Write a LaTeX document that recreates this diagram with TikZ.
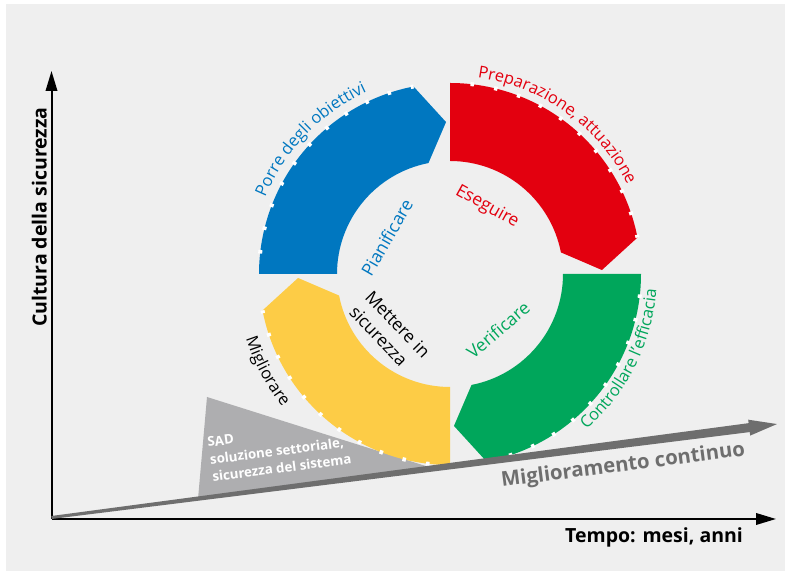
\documentclass[tikz,border=0pt]{standalone}
\usepackage{fontspec}
\setmainfont{Open Sans}
\usetikzlibrary{arrows.meta,decorations.text}
\definecolor{bgc}{HTML}{EFEFEF}
\definecolor{cblue}{HTML}{0077C0}
\definecolor{cred}{HTML}{E3000F}
\definecolor{cgreen}{HTML}{00A65B}
\definecolor{cyellow}{HTML}{FDCC46}
\definecolor{cband}{HTML}{6E6E6E}
\definecolor{ctri}{HTML}{AEAEB0}
\newcommand{\outerfont}{\fontsize{16.5}{18}\selectfont}
\newcommand{\innerfont}{\fontsize{17.5}{22}\selectfont}
\newcommand{\axisfont}{\fontsize{19.5}{22}\selectfont\bfseries}
\newcommand{\sadfont}{\fontsize{13.3}{16}\selectfont\bfseries}
\newcommand{\ringseg}[2]{%
  \fill[#1] (#2:113pt) -- (#2:191pt)
    arc[start angle=#2, end angle={#2-79}, radius=191pt]
    -- ({#2-88.5}:152pt) -- ({#2-79}:113pt)
    arc[start angle={#2-79}, end angle=#2, radius=113pt] -- cycle;
  \draw[notch] (#2:191pt) arc[start angle=#2, end angle={#2-79}, radius=191pt];
}
\tikzset{
  notch/.style={draw=white, line width=4pt, dash pattern=on 3.5pt off 20.5pt, dash phase=3.5pt},
  axisline/.style={draw=black, line width=2pt, -{Triangle[length=20pt,width=11.5pt]}},
  innerlbl/.style={font=\innerfont, inner sep=0pt},
  sadtxt/.style={font=\sadfont, text=white, inner sep=0pt, anchor=base west, rotate=7.34},
  outerlbl/.style={decorate, decoration={text along path, text align=center, text color=#1}},
}
\begin{document}
\begin{tikzpicture}[x=1pt,y=1pt]
\useasboundingbox (0,0) rectangle (785,572);
\fill[white] (0,0) rectangle (785,572);
\fill[bgc] (6,1) rectangle (785,568);

% axes
\coordinate (O) at (51.5,53);
\coordinate (ytip) at (51.5,501);
\coordinate (xtip) at (776,53);
\draw[axisline] (O) -- (ytip);
\draw[axisline] (O) -- (xtip);
\node[font=\axisfont, anchor=base west, rotate=90, inner sep=0pt] (ylab) at (46.5,245) {Cultura della sicurezza};
\node[font=\axisfont, anchor=base west, inner sep=0pt] (xlab) at (565,29) {Tempo: mesi, anni};

% SAD triangle
\coordinate (t1) at (207,175);
\coordinate (t2) at (198,73);
\coordinate (t3) at (432,104);
\fill[ctri] (t1) -- (t2) -- (t3) -- cycle;
\node[sadtxt] (sad1) at (208,125) {SAD};
\node[sadtxt] (sad2) at (210.5,107.5) {soluzione settoriale,};
\node[sadtxt] (sad3) at (212.8,90.5) {sicurezza del sistema};

% ring
\begin{scope}[shift={(450,298)}]
  \ringseg{cblue}{180}
  \ringseg{cred}{90}
  \ringseg{cgreen}{0}
  \ringseg{cyellow}{270}
  \path[outerlbl=cblue, decoration={text={|\outerfont|Porre degli obiettivi}}]
    (180:200pt) arc[start angle=180, end angle=92, radius=200pt];
  \path[outerlbl=cred, decoration={text={|\outerfont|Preparazione, attuazione}}]
    (100:198.5pt) arc[start angle=100, end angle=8.6, radius=198.5pt];
  \path[outerlbl=cgreen, decoration={text={|\outerfont|Controllare l’efficacia}}]
    (-70:207pt) arc[start angle=-70, end angle=16.8, radius=207pt];
  \path[outerlbl=black, decoration={text={|\outerfont|Migliorare}}]
    (180:214pt) arc[start angle=180, end angle=236, radius=214pt];
  \node[innerlbl, text=cblue, rotate=60] (pian) at (150:73pt) {Pianificare};
  \node[innerlbl, text=cred, rotate=-29] (eseg) at (61:76.5pt) {Eseguire};
  \node[innerlbl, text=cgreen, rotate=40.6] (verif) at (-49.4:73.8pt) {Verificare};
  \node[innerlbl, align=left, rotate=-46] (mett) at (224:83.5pt) {Mettere in\\sicurezza};
\end{scope}

% continuous improvement band
\begin{scope}[shift={(51.5,54.5)}, rotate=7.34]
  \fill[cband] (0,-1.5) -- (0,1.5) -- (703.5,4.5) -- (703.5,8) -- (731.5,0)
    -- (703.5,-8) -- (703.5,-4.5) -- cycle;
\end{scope}
\node[font=\fontsize{20.3}{22}\selectfont\bfseries, text=cband, anchor=base west, rotate=7.34, inner sep=0pt] (mig) at (502,85) {Miglioramento continuo};
\end{tikzpicture}
\end{document}
